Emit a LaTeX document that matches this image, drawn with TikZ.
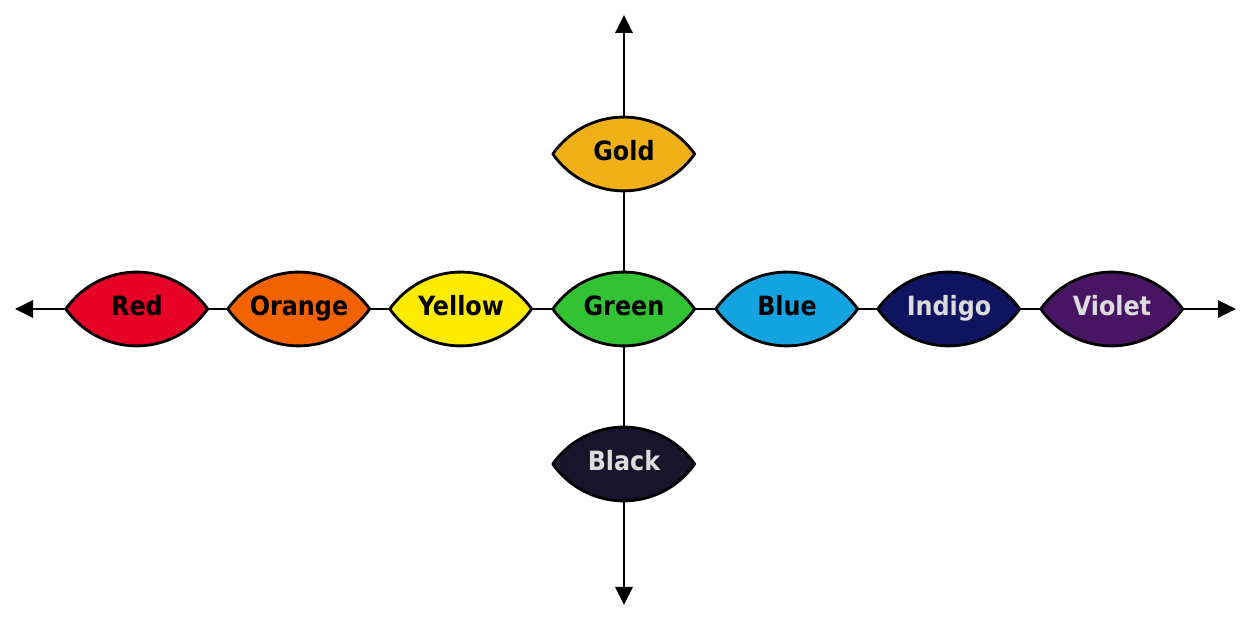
\documentclass[tikz,border=0pt]{standalone}
\usepackage{fontspec}
\setmainfont{DejaVu Sans Condensed}
\usetikzlibrary{arrows.meta}
\definecolor{cRed}{HTML}{E60226}
\definecolor{cOrange}{HTML}{F26300}
\definecolor{cYellow}{HTML}{FFEB00}
\definecolor{cGreen}{HTML}{33C233}
\definecolor{cBlue}{HTML}{13A3E0}
\definecolor{cIndigo}{HTML}{0E1460}
\definecolor{cViolet}{HTML}{481565}
\definecolor{cGold}{HTML}{F0B018}
\definecolor{cBlack}{HTML}{18152A}
\definecolor{cLight}{HTML}{DCDCDC}
\pgfdeclarelayer{bg}
\pgfdeclarelayer{mid}
\pgfsetlayers{bg,mid,main}
\tikzset{
  lens/.style={shape=rectangle, minimum width=142pt, minimum height=74pt, inner sep=0pt,
    text height=20pt, text depth=6pt,
    font=\bfseries\fontsize{26.5}{30}\selectfont, text=black},
  lensfill/.style={draw=black, line width=2.8pt, line join=round},
  lighttext/.style={text=cLight},
  axis/.style={line width=2.8pt, draw=black},
  tip/.style={-{Triangle[length=18pt,width=17pt]}}
}
\newcommand{\drawlens}[2]{%
  \begin{pgfonlayer}{mid}
  \path[lensfill, fill=#2] (#1.west) arc[start angle=145, end angle=35, radius=86.6pt]
      arc[start angle=-35, end angle=-145, radius=86.6pt] -- cycle;
  \end{pgfonlayer}}
\begin{document}
\begin{tikzpicture}[x=1pt,y=1pt]
\useasboundingbox (0,0) rectangle (1250,620);
\coordinate (L) at (15,311);
\coordinate (R) at (1236,311);
\coordinate (T) at (624,605);
\coordinate (B) at (624,15);
\node[lens] (red) at (137,311) {Red};
\node[lens] (orange) at (299,311) {Orange};
\node[lens] (yellow) at (461,311) {Yellow};
\node[lens] (green) at (624,311) {Green};
\node[lens] (blue) at (787,311) {Blue};
\node[lens,lighttext] (indigo) at (949,311) {Indigo};
\node[lens,lighttext] (violet) at (1112,311) {Violet};
\node[lens] (gold) at (624,466) {Gold};
\node[lens,lighttext] (black) at (624,156) {Black};
\drawlens{red}{cRed}
\drawlens{orange}{cOrange}
\drawlens{yellow}{cYellow}
\drawlens{green}{cGreen}
\drawlens{blue}{cBlue}
\drawlens{indigo}{cIndigo}
\drawlens{violet}{cViolet}
\drawlens{gold}{cGold}
\drawlens{black}{cBlack}
\begin{pgfonlayer}{bg}
\draw[axis,tip] (red.west) -- (L);
\draw[axis] (red.east) -- (orange.west);
\draw[axis] (orange.east) -- (yellow.west);
\draw[axis] (yellow.east) -- (green.west);
\draw[axis] (green.east) -- (blue.west);
\draw[axis] (blue.east) -- (indigo.west);
\draw[axis] (indigo.east) -- (violet.west);
\draw[axis,tip] (violet.east) -- (R);
\draw[axis,tip] (gold.north) -- (T);
\draw[axis] (gold.south) -- (green.north);
\draw[axis] (green.south) -- (black.north);
\draw[axis,tip] (black.south) -- (B);
\end{pgfonlayer}
\end{tikzpicture}
\end{document}
